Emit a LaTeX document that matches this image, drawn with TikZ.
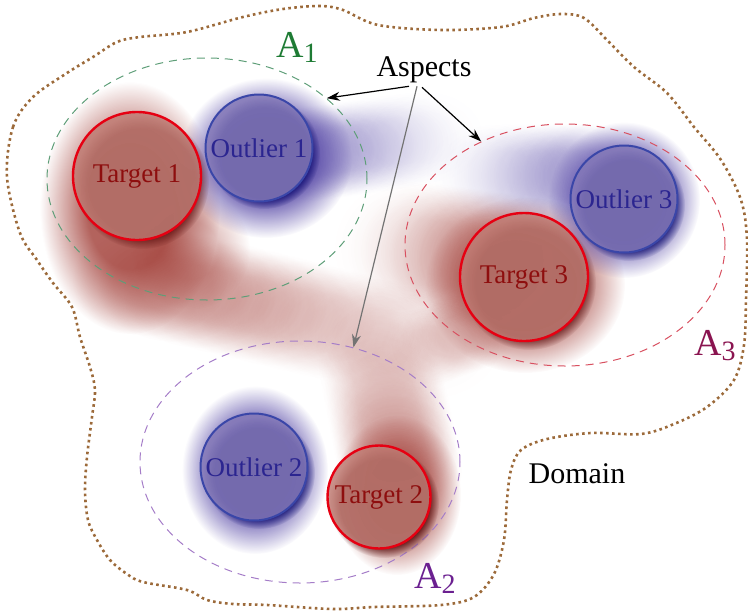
\documentclass[tikz,border=0pt]{standalone}
\usepackage{fontspec}
\setmainfont{Liberation Serif}
\usetikzlibrary{fadings,arrows.meta,shapes.geometric}
\pgfdeclareradialshading{myfuzzshade}{\pgfpointorigin}{color(0bp)=(pgftransparent!0); color(12bp)=(pgftransparent!0); color(25bp)=(pgftransparent!100); color(50bp)=(pgftransparent!100)}
\pgfdeclarefading{fuzzyblob}{\pgfuseshading{myfuzzshade}}
\definecolor{hazered}{HTML}{A03C35}
\definecolor{hazeblue}{HTML}{4A3AA0}
\definecolor{tfill}{HTML}{C07C74}
\definecolor{tdraw}{HTML}{E60012}
\definecolor{ttext}{HTML}{8E0E0E}
\definecolor{ofill}{HTML}{8479B8}
\definecolor{odraw}{HTML}{3A46A8}
\definecolor{otext}{HTML}{2B2590}
\definecolor{domcol}{HTML}{9C6A3A}
\definecolor{aone}{HTML}{1E7B34}
\definecolor{atwo}{HTML}{6B2090}
\definecolor{athree}{HTML}{8A1450}
\definecolor{eone}{HTML}{5E9E78}
\definecolor{etwo}{HTML}{A57DC8}
\definecolor{ethree}{HTML}{D85060}
\begin{document}
\begin{tikzpicture}[x=1pt,y=-1pt,
  rblob/.style={fill=hazered, path fading=fuzzyblob, fill opacity=#1},
  bblob/.style={fill=hazeblue, path fading=fuzzyblob, fill opacity=#1},
  shad/.style={fill=#1, path fading=circle with fuzzy edge 20 percent, fill opacity=0.75},
  tcirc/.style={circle, draw=tdraw, line width=2.4pt, fill=tfill, fill opacity=0.85, text opacity=1, text=ttext, minimum size=#1, inner sep=0pt, font=\fontsize{27}{27}\selectfont},
  ocirc/.style={circle, draw=odraw, line width=2pt, fill=ofill, fill opacity=0.85, text opacity=1, text=otext, minimum size=#1, inner sep=0pt, font=\fontsize{27}{27}\selectfont},
  aspect/.style={ellipse, draw=#1, dash pattern=on 8pt off 6pt, line width=1pt, minimum width=320pt, minimum height=242pt, inner sep=0pt},
  alabel/.style={text=#1, font=\fontsize{38}{38}\selectfont, inner sep=0pt},
  domainline/.style={draw=domcol, line width=2.6pt, dash pattern=on 2.6pt off 3.4pt},
  arr/.style={-{Stealth[length=13pt,width=9pt]}, line width=1.2pt, draw=#1}
]
\useasboundingbox (0,0) rectangle (748,614);

% domain
\draw[domainline] plot[smooth cycle, tension=0.55] coordinates {
 (7,177) (13,127) (33,97) (67,73) (93,57) (117,42) (140,37) (187,32) (243,17) (283,9) (320,6) (343,10) (378,25)
 (441,30) (501,27) (534,18) (561,14) (584,18) (607,40) (634,67) (667,93) (694,127) (721,160) (741,200) (747,240)
 (746,300) (744,345) (734,380) (707,407) (674,424) (641,434) (591,433) (547,439) (521,450) (511,470) (507,500)
 (504,540) (494,574) (474,597) (441,605) (374,607) (333,609) (267,605) (233,604) (207,600) (187,590) (143,582)
 (127,574) (110,560) (97,540) (88,520) (85,490) (87,457) (92,417) (95,390) (90,367) (80,337) (72,307) (53,283)
 (37,260) (20,233)};

% red haze
\fill[rblob=0.80] (130,208) ellipse [x radius=90, y radius=126];
\fill[rblob=0.30] (190,250) ellipse [x radius=60, y radius=60];
\foreach \i in {0,...,11}{
  \fill[rblob={0.2*(1-\i/12)}] ({150+25*\i},{280+6*\i}) ellipse [x radius=78, y radius=56];
}
\fill[rblob=0.80] (525,285) ellipse [x radius=100, y radius=88];
\foreach \i in {0,...,7}{
  \fill[rblob={0.18*(1-\i/8)}] ({500-14*\i},{262-2*\i}) ellipse [x radius=70, y radius=70];
}
\fill[rblob=0.75] (397,495) ellipse [x radius=64, y radius=80];
\foreach \i in {0,...,9}{
  \fill[rblob={0.16*(1-\i/10)}] ({400-3*\i},{470-15*\i}) ellipse [x radius=62, y radius=60];
}
\foreach \i in {0,...,5}{
  \fill[rblob={0.10*(1-\i/6)}] ({470-10*\i},{330+4*\i}) ellipse [x radius=50, y radius=40];
}

% blue haze
\fill[bblob=0.90] (266,158) ellipse [x radius=86, y radius=80];
\foreach \i in {0,...,9}{
  \fill[bblob={0.14*(1-\i/10)}] ({300+14*\i},{155-2*\i}) ellipse [x radius=60, y radius=48];
}
\fill[bblob=0.90] (624,200) ellipse [x radius=76, y radius=78];
\foreach \i in {0,...,8}{
  \fill[bblob={0.15*(1-\i/9)}] ({590-14*\i},{175}) ellipse [x radius=55, y radius=52];
}
\fill[bblob=0.90] (255,470) ellipse [x radius=73, y radius=84];

% aspect ellipses
\node[aspect=eone] (a1) at (207,179) {};
\node[aspect=ethree] (a3) at (565,245) {};
\node[aspect=etwo] (a2) at (300,462) {};

% shadows
\fill[shad=black!70!red] (142,182) circle [radius=67pt];
\fill[shad=black!60!blue] (264,153) circle [radius=56pt];
\fill[shad=black!70!red] (529,283) circle [radius=67pt];
\fill[shad=black!60!blue] (629,205) circle [radius=56pt];
\fill[shad=black!60!blue] (259,473) circle [radius=56pt];
\fill[shad=black!70!red] (384,503) circle [radius=55pt];

% circles
\node[tcirc=128pt] (t1) at (137,176) {Target 1};
\node[ocirc=107pt] (o1) at (259,148) {Outlier 1};
\node[tcirc=128pt] (t3) at (524,277) {Target 3};
\node[ocirc=107pt] (o3) at (624,199) {Outlier 3};
\node[ocirc=107pt] (o2) at (254,467) {Outlier 2};
\node[tcirc=103pt] (t2) at (379,497) {Target 2};

% labels
\node[alabel=aone] (l1) at (297,47) {A\raisebox{-5pt}{\fontsize{28}{28}\selectfont 1}};
\node[alabel=athree] (l3) at (715,346) {A\raisebox{-5pt}{\fontsize{28}{28}\selectfont 3}};
\node[alabel=atwo] (l2) at (435,578) {A\raisebox{-5pt}{\fontsize{28}{28}\selectfont 2}};
\node[font=\fontsize{30}{30}\selectfont, inner sep=0pt] (asp) at (424,70) {Aspects};
\node[font=\fontsize{30}{30}\selectfont, inner sep=0pt] (dom) at (577,474) {Domain};

% arrows
\draw[arr=black] ([xshift=-15pt,yshift=-3pt]asp.south) -- (a1.34);
\draw[arr=black] ([xshift=-2pt,yshift=-4pt]asp.south) -- (a3.129);
\draw[arr=black!55] ([xshift=-7pt,yshift=-3pt]asp.south) -- (a2.65);
\end{tikzpicture}
\end{document}
